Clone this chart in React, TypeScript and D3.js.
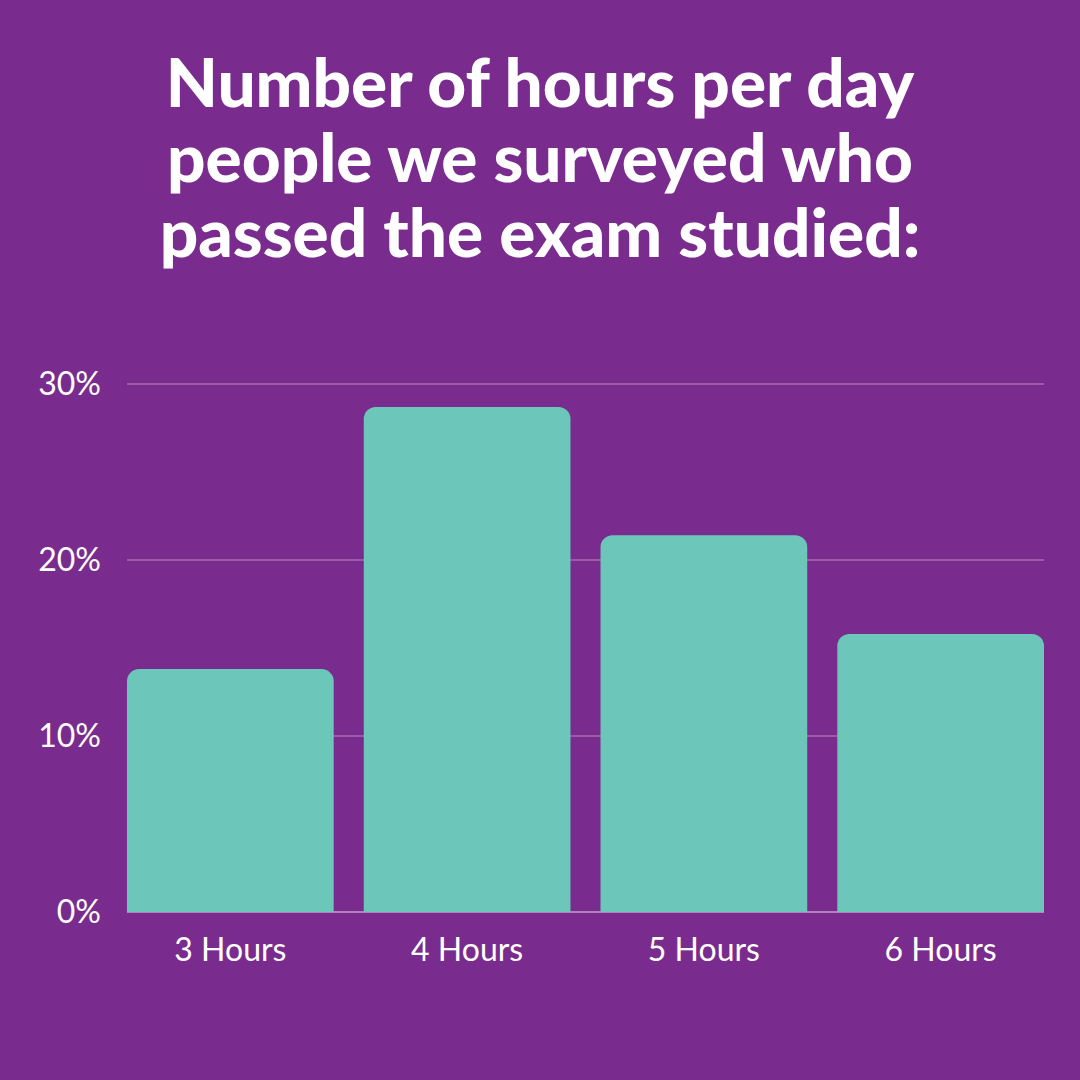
import React from "react";
import * as d3 from "d3";

const categories = ["3 Hours", "4 Hours", "5 Hours", "6 Hours"];
const values = [13.8, 28.7, 21.4, 15.8];
const yTicks = [0, 10, 20, 30];
const titleLines = [
  "Number of hours per day",
  "people we surveyed who",
  "passed the exam studied:",
];

const W = 1080;
const H = 1080;
const BG = "#7A2C8E";
const BAR = "#6DC6BA";
const FONT = "Lato, 'Open Sans', sans-serif";

export default function App() {
  const x = d3
    .scaleBand<string>()
    .domain(categories)
    .range([127, 1044])
    .paddingInner(0.127)
    .paddingOuter(0);
  const y = d3.scaleLinear().domain([0, 30]).range([912, 384]);
  const r = 12;

  const barPath = (c: string, v: number) => {
    const x0 = x(c)!;
    const x1 = x0 + x.bandwidth();
    const y0 = y(0);
    const y1 = y(v);
    const p = d3.path();
    p.moveTo(x0, y0);
    p.lineTo(x0, y1 + r);
    p.arcTo(x0, y1, x0 + r, y1, r);
    p.lineTo(x1 - r, y1);
    p.arcTo(x1, y1, x1, y1 + r, r);
    p.lineTo(x1, y0);
    p.closePath();
    return p.toString();
  };

  return (
    <svg
      width={W}
      height={H}
      style={{ position: "absolute", left: 0, top: 0, display: "block" }}
    >
      <rect width={W} height={H} fill={BG} />
      {titleLines.map((t, i) => (
        <text
          key={i}
          x={540}
          y={107 + i * 75}
          textAnchor="middle"
          fill="#fff"
          fontFamily={FONT}
          fontWeight={900}
          fontSize={67.5}
        >
          {t}
        </text>
      ))}
      {yTicks.map((t) => (
        <g key={t}>
          {t > 0 && (
            <line
              x1={127}
              x2={1044}
              y1={y(t)}
              y2={y(t)}
              stroke="rgba(255,255,255,0.3)"
              strokeWidth={1.5}
            />
          )}
          <text
            x={101}
            y={y(t) + 11}
            textAnchor="end"
            fill="#fff"
            fontFamily={FONT}
            fontSize={32}
          >
            {t}%
          </text>
        </g>
      ))}
      <line
        x1={127}
        x2={1044}
        y1={y(0)}
        y2={y(0)}
        stroke="rgba(255,255,255,0.55)"
        strokeWidth={1.5}
      />
      {categories.map((c, i) => (
        <g key={c}>
          <path d={barPath(c, values[i])} fill={BAR} />
          <text
            x={x(c)! + x.bandwidth() / 2}
            y={961}
            textAnchor="middle"
            fill="#fff"
            fontFamily={FONT}
            fontSize={32}
          >
            {c}
          </text>
        </g>
      ))}
    </svg>
  );
}
